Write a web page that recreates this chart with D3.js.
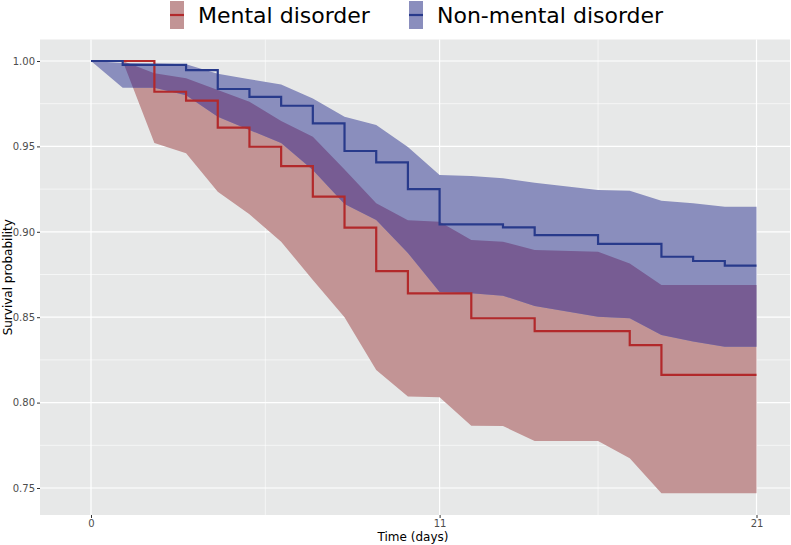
<!DOCTYPE html>
<html>
<head>
<meta charset="utf-8">
<script src="https://cdn.jsdelivr.net/npm/d3@7"></script>
<style>
  html, body { margin: 0; padding: 0; background: #ffffff; }
  svg { display: block; font-family: "DejaVu Sans", sans-serif; }
</style>
</head>
<body>
<svg id="chart" width="791" height="545"></svg>
<script>
// ---------- data ----------
const seriesNames = ["Mental disorder", "Non-mental disorder"];

const mentalTime = [0, 2, 3, 4, 5, 6, 7, 8, 9, 10, 12, 14, 17, 18, 21];
const mentalSurv = [1, 0.982, 0.9768, 0.961, 0.9498, 0.9385, 0.9206, 0.9024, 0.877, 0.864, 0.8494, 0.8418, 0.8337, 0.8162, 0.8162];

const mentalBandTime = [0, 1, 2, 3, 4, 5, 6, 7, 8, 9, 10, 11, 12, 13, 14, 16, 17, 18, 21];
const mentalLower = [1, 1, 0.952, 0.946, 0.9235, 0.9103, 0.8942, 0.8718, 0.850, 0.8191, 0.8035, 0.8031, 0.7865, 0.7863, 0.7775, 0.7775, 0.7674, 0.7469, 0.7469];
const mentalUpper = [1, 1, 0.9928, 0.9899, 0.983, 0.9762, 0.9649, 0.9557, 0.9365, 0.9167, 0.9068, 0.9059, 0.8952, 0.8942, 0.8893, 0.8883, 0.8815, 0.8689, 0.8689];

const nonTime = [0, 1, 3, 4, 5, 6, 7, 8, 9, 10, 11, 13, 14, 16, 18, 19, 20, 21];
const nonSurv = [1, 0.9977, 0.9947, 0.9836, 0.979, 0.9738, 0.9635, 0.9473, 0.9407, 0.925, 0.9044, 0.9026, 0.898, 0.8929, 0.8854, 0.8829, 0.8802, 0.8802];

const nonBandTime = [0, 1, 2, 3, 4, 5, 6, 7, 8, 9, 10, 11, 12, 13, 14, 16, 17, 18, 19, 20, 21];
const nonLower = [1, 0.9844, 0.9844, 0.980, 0.9674, 0.9596, 0.952, 0.9362, 0.9163, 0.9069, 0.8876, 0.8647, 0.864, 0.8626, 0.8566, 0.8503, 0.8494, 0.8396, 0.8357, 0.8327, 0.8327];
const nonUpper = [1, 0.9988, 0.9985, 0.9981, 0.9926, 0.9893, 0.9862, 0.978, 0.9674, 0.9625, 0.9496, 0.9333, 0.9327, 0.9313, 0.9287, 0.9245, 0.9241, 0.9182, 0.9167, 0.9147, 0.9147];

const xTicks = [0, 11, 21];
const xMinor = [5.5, 16];
const yTicks = [0.75, 0.80, 0.85, 0.90, 0.95, 1.00];
const yMinor = [0.775, 0.825, 0.875, 0.925, 0.975];

// ---------- layout ----------
const W = 791, H = 545;
const panel = { left: 40, right: 790, top: 39.5, bottom: 515 };
const colors = {
  bg: "#e7e8e8",
  redLine: "#b2292b", blueLine: "#283a8b",
  pink: "#c29495", lightBlue: "#8a8ebd", purple: "#775c93"
};

const svg = d3.select("#chart");

const x = d3.scaleLinear().domain([0, 21]).range([91, 756.5]);
const y = d3.scaleLinear().domain([0.75, 1.0]).range([488, 61]);

// panel background
svg.append("rect")
  .attr("x", panel.left).attr("y", panel.top)
  .attr("width", panel.right - panel.left).attr("height", panel.bottom - panel.top)
  .attr("fill", colors.bg);

const defs = svg.append("defs");
defs.append("clipPath").attr("id", "panelClip")
  .append("rect")
  .attr("x", panel.left).attr("y", panel.top)
  .attr("width", panel.right - panel.left).attr("height", panel.bottom - panel.top);

const grid = svg.append("g");
// minor grid
yMinor.forEach(v => grid.append("line")
  .attr("x1", panel.left).attr("x2", panel.right)
  .attr("y1", y(v)).attr("y2", y(v))
  .attr("stroke", "#ffffff").attr("stroke-width", 0.6));
xMinor.forEach(v => grid.append("line")
  .attr("y1", panel.top).attr("y2", panel.bottom)
  .attr("x1", x(v)).attr("x2", x(v))
  .attr("stroke", "#ffffff").attr("stroke-width", 0.6));
// major grid
yTicks.forEach(v => grid.append("line")
  .attr("x1", panel.left).attr("x2", panel.right)
  .attr("y1", y(v)).attr("y2", y(v))
  .attr("stroke", "#ffffff").attr("stroke-width", 1.2));
xTicks.forEach(v => grid.append("line")
  .attr("y1", panel.top).attr("y2", panel.bottom)
  .attr("x1", x(v)).attr("x2", x(v))
  .attr("stroke", "#ffffff").attr("stroke-width", 1.2));

// ---------- bands ----------
const mentalBand = mentalBandTime.map((t, i) => ({ t, lo: mentalLower[i], hi: mentalUpper[i] }));
const nonBand = nonBandTime.map((t, i) => ({ t, lo: nonLower[i], hi: nonUpper[i] }));

const area = d3.area()
  .x(d => x(d.t))
  .y0(d => y(d.lo))
  .y1(d => y(d.hi));

defs.append("clipPath").attr("id", "mentalClip")
  .append("path").attr("d", area(mentalBand));

const bands = svg.append("g").attr("clip-path", "url(#panelClip)");
bands.append("path").attr("d", area(mentalBand)).attr("fill", colors.pink);
bands.append("path").attr("d", area(nonBand)).attr("fill", colors.lightBlue);
bands.append("g").attr("clip-path", "url(#mentalClip)")
  .append("path").attr("d", area(nonBand)).attr("fill", colors.purple);

// ---------- survival step lines ----------
const line = d3.line()
  .x(d => x(d.t))
  .y(d => y(d.s))
  .curve(d3.curveStepAfter);

const mentalData = mentalTime.map((t, i) => ({ t, s: mentalSurv[i] }));
const nonData = nonTime.map((t, i) => ({ t, s: nonSurv[i] }));

svg.append("path").attr("d", line(mentalData))
  .attr("fill", "none").attr("stroke", colors.redLine).attr("stroke-width", 2.2);
svg.append("path").attr("d", line(nonData))
  .attr("fill", "none").attr("stroke", colors.blueLine).attr("stroke-width", 2.2);

// ---------- axes ----------
const yAxis = d3.axisLeft(y).tickValues(yTicks).tickFormat(d3.format(".2f")).tickSize(3).tickPadding(2);
const gy = svg.append("g").attr("transform", `translate(${panel.left},0)`).call(yAxis);
gy.select(".domain").remove();
gy.selectAll(".tick line").attr("stroke", "#333333");
gy.selectAll(".tick text").attr("fill", "#4d4d4d").style("font-size", "10px").style("font-family", "DejaVu Sans");

const xAxis = d3.axisBottom(x).tickValues(xTicks).tickFormat(d3.format("d")).tickSize(3).tickPadding(2);
const gx = svg.append("g").attr("transform", `translate(0,${panel.bottom})`).call(xAxis);
gx.select(".domain").remove();
gx.selectAll(".tick line").attr("stroke", "#333333");
gx.selectAll(".tick text").attr("fill", "#4d4d4d").style("font-size", "10px").style("font-family", "DejaVu Sans");

svg.append("text")
  .attr("x", (panel.left + panel.right) / 2 - 2).attr("y", 541)
  .attr("text-anchor", "middle")
  .style("font-size", "12px").attr("fill", "#000")
  .text("Time (days)");

svg.append("text")
  .attr("transform", `translate(12,${(panel.top + panel.bottom) / 2}) rotate(-90)`)
  .attr("text-anchor", "middle")
  .style("font-size", "12px").attr("fill", "#000")
  .text("Survival probability");

// ---------- legend ----------
const legendItems = [
  { name: seriesNames[0], fill: colors.pink, stroke: colors.redLine, x: 170 },
  { name: seriesNames[1], fill: colors.lightBlue, stroke: colors.blueLine, x: 409 }
];
const lg = svg.append("g");
legendItems.forEach(it => {
  lg.append("rect").attr("x", it.x).attr("y", 1).attr("width", 14).attr("height", 28).attr("fill", it.fill);
  lg.append("line").attr("x1", it.x).attr("x2", it.x + 14).attr("y1", 15).attr("y2", 15)
    .attr("stroke", it.stroke).attr("stroke-width", 2.2);
  lg.append("text").attr("x", it.x + 28).attr("y", 23)
    .style("font-size", "22px").attr("fill", "#000").text(it.name);
});
</script>
</body>
</html>
